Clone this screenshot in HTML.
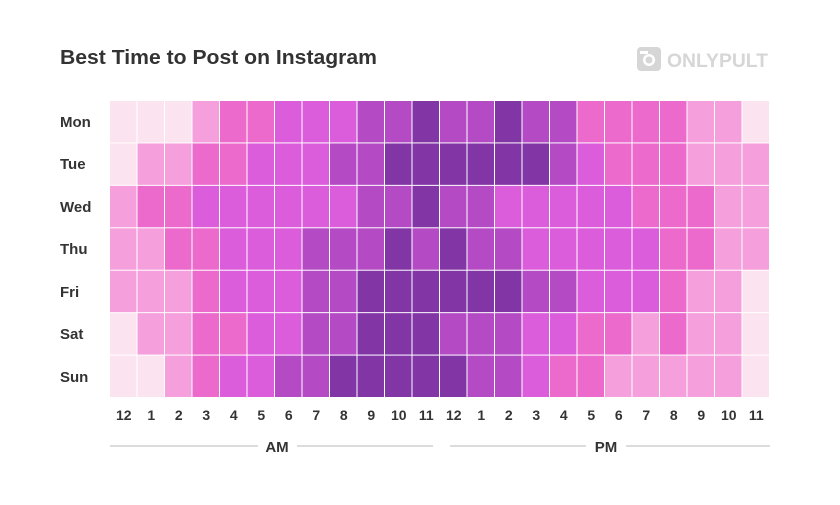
<!DOCTYPE html>
<html><head><meta charset="utf-8"><style>
body{margin:0;background:#fff;}
svg{display:block;font-family:"Liberation Sans",sans-serif;}
</style></head><body>
<svg id="s" width="840" height="505" viewBox="0 0 840 505" xmlns="http://www.w3.org/2000/svg">
<rect width="840" height="505" fill="#fff"/>
<text x="60" y="64" font-size="20.5" font-weight="bold" fill="#333" textLength="317" lengthAdjust="spacingAndGlyphs">Best Time to Post on Instagram</text>
<g fill="#d6d6d6">
<rect x="637" y="47" width="24" height="24" rx="4"/>
<circle cx="649" cy="60" r="6" fill="#fff"/>
<circle cx="649" cy="60" r="3.5"/>
<rect x="640" y="51" width="8" height="3" fill="#fff"/>
<text x="667" y="67" font-size="19" font-weight="bold" textLength="101" lengthAdjust="spacingAndGlyphs">ONLYPULT</text>
</g>
<g font-size="15" font-weight="bold" fill="#333">
<text x="60" y="127">Mon</text>
<text x="60" y="169">Tue</text>
<text x="60" y="212">Wed</text>
<text x="60" y="254">Thu</text>
<text x="60" y="297">Fri</text>
<text x="60" y="339">Sat</text>
<text x="60" y="382">Sun</text>
</g>
<g id="cells"></g>
<g font-size="14" font-weight="bold" fill="#333" text-anchor="middle">
<text x="123.75" y="420">12</text><text x="151.25" y="420">1</text><text x="178.75" y="420">2</text><text x="206.25" y="420">3</text><text x="233.75" y="420">4</text><text x="261.25" y="420">5</text><text x="288.75" y="420">6</text><text x="316.25" y="420">7</text><text x="343.75" y="420">8</text><text x="371.25" y="420">9</text><text x="398.75" y="420">10</text><text x="426.25" y="420">11</text>
<text x="453.75" y="420">12</text><text x="481.25" y="420">1</text><text x="508.75" y="420">2</text><text x="536.25" y="420">3</text><text x="563.75" y="420">4</text><text x="591.25" y="420">5</text><text x="618.75" y="420">6</text><text x="646.25" y="420">7</text><text x="673.75" y="420">8</text><text x="701.25" y="420">9</text><text x="728.75" y="420">10</text><text x="756.25" y="420">11</text>
<text x="277" y="452" font-size="15">AM</text>
<text x="606" y="452" font-size="15">PM</text>
</g>
<g stroke="#dcdcdc" stroke-width="2">
<line x1="110" y1="446" x2="258" y2="446"/><line x1="297" y1="446" x2="433" y2="446"/>
<line x1="450" y1="446" x2="586" y2="446"/><line x1="626" y1="446" x2="770" y2="446"/>
</g>
</svg>
<script>
var C=["#fce3f0","#f5a0dc","#ec6acb","#dc5ddb","#b44bc5","#8236a6"];
var D=[
[0,0,0,1,2,2,3,3,3,4,4,5,4,4,5,4,4,2,2,2,2,1,1,0],
[0,1,1,2,2,3,3,3,4,4,5,5,5,5,5,5,4,3,2,2,2,1,1,1],
[1,2,2,3,3,3,3,3,3,4,4,5,4,4,3,3,3,3,3,2,2,2,1,1],
[1,1,2,2,3,3,3,4,4,4,5,4,5,4,4,3,3,3,3,3,2,2,1,1],
[1,1,1,2,3,3,3,4,4,5,5,5,5,5,5,4,4,3,3,3,2,1,1,0],
[0,1,1,2,2,3,3,4,4,5,5,5,4,4,4,3,3,2,2,1,2,1,1,0],
[0,0,1,2,3,3,4,4,5,5,5,5,5,4,4,3,2,2,1,1,1,1,1,0]];
var g=document.getElementById("cells"),h="";
var cw=27.5,rh=42.43;
for(var r=0;r<7;r++)for(var c=0;c<24;c++){
h+='<rect x="'+(110+c*cw)+'" y="'+(101+r*rh)+'" width="'+(cw-1)+'" height="'+(rh-1)+'" fill="'+C[D[r][c]]+'"/>';}
g.innerHTML=h;
</script>
</body></html>
